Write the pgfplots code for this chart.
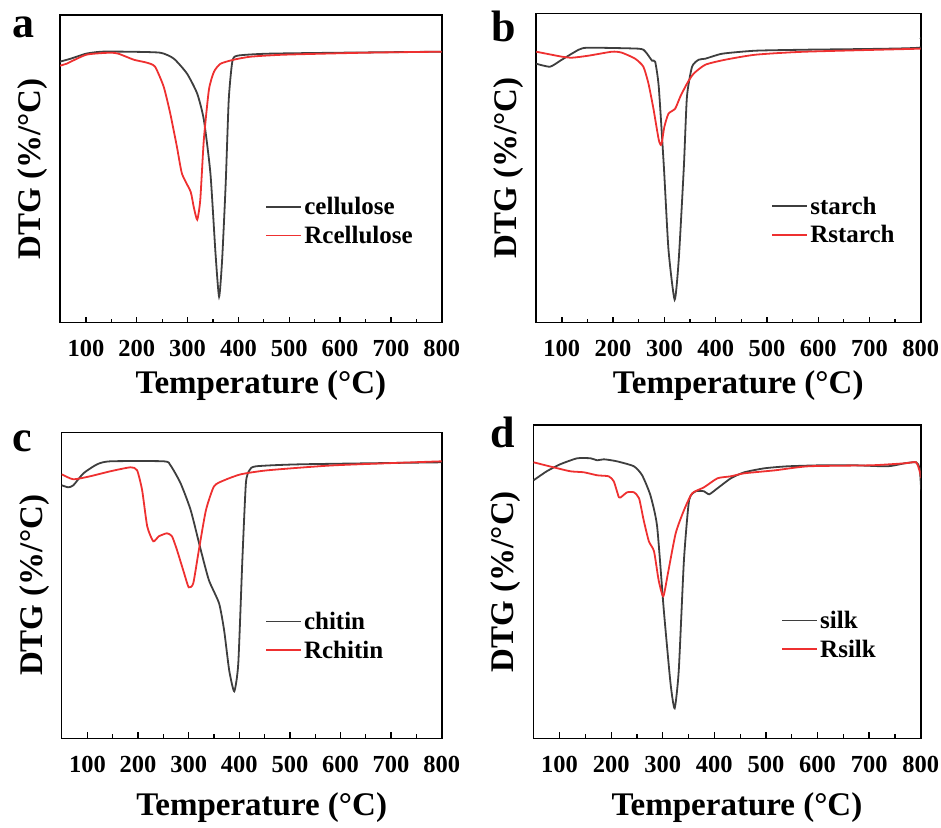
\documentclass[border=0pt]{standalone}
\usepackage{fontspec}
\setmainfont{Liberation Serif}
\usepackage{pgfplots}
\pgfplotsset{compat=1.18}
\definecolor{curvegray}{RGB}{62,62,62}
\definecolor{curvered}{RGB}{238,48,48}

\pgfplotsset{
  dtg/.style={
    scale only axis,
    xmin=49, xmax=800, ymin=0,
    xtick={100,200,...,800},
    minor x tick num=1,
    ytick=\empty,
    xtick pos=bottom,
    tick align=inside,
    major tick length=6pt,
    minor tick length=4pt,
    axis line style={line width=1.6pt},
    every tick/.style={line width=1.3pt, black},
    /pgf/number format/assume math mode=true,
    xticklabel style={font=\fontsize{24.5}{24.5}\selectfont\bfseries, anchor=base, yshift=-34pt},
    xlabel={Temperature (°C)},
    ylabel={DTG (\%/°C)},
    label style={font=\fontsize{33}{33}\selectfont\bfseries},
    xlabel style={at={(axis description cs:0.5,0)}, anchor=base, xshift=10pt, yshift=-71pt},
    ylabel style={yshift=9pt},
    legend style={draw=none, fill=none, anchor=west,
      font=\fontsize{25}{27}\selectfont\bfseries, row sep=6pt,
      inner sep=0pt, nodes={inner sep=2pt}},
    legend cell align=left,
    every axis plot/.append style={line width=1.8pt, smooth, tension=0.35},
  },
  legend image code/.code={\draw[#1, sharp plot, line width=1.8pt] plot coordinates {(0pt,0pt) (17.5pt,0pt) (35pt,0pt)};},
}

\begin{document}
\begin{tikzpicture}[x=1pt,y=1pt]
\useasboundingbox (0,0) rectangle (941,827);

% ---- a: cellulose
\begin{axis}[dtg, at={(60pt,504.3pt)}, width=381.7pt, height=307.7pt, ymax=307.7,
  legend style={at={(0.538,0.33)}}]
\addplot[curvegray] coordinates {
 (48.6,261) (70,264) (100,269) (130,271) (180,271) (246,270) (273,264) (299,249)
 (319,229) (332,203) (345,149) (355,69) (362,26) (368,63) (375,139) (381,223)
 (388,261) (398,267) (457,269) (600,270) (800,271)
};
\addlegendentry{cellulose}
\addplot[curvered] coordinates {
 (48.6,257) (62,259) (101,268) (147,270) (164,269) (194,263) (220,260) (236,256)
 (253,236) (266,209) (279,176) (289,149) (306,131) (312,116) (319,103) (325,123)
 (332,183) (342,233) (352,251) (365,259) (391,263) (424,266) (490,268) (650,270) (800,271)
};
\addlegendentry{Rcellulose}
\end{axis}

% ---- b: starch
\begin{axis}[dtg, at={(535.7pt,504.3pt)}, width=385pt, height=309.3pt, ymax=309.3,
  legend style={at={(0.612,0.33)}}]
\addplot[curvegray] coordinates {
 (50,259) (77,256) (100,263) (133,273) (152,275) (250,274) (263,271) (276,262)
 (282,261) (289,236) (299,156) (308,73) (320,23) (328,63) (338,156) (344,226)
 (354,256) (367,263) (380,264) (413,269) (478,272) (575,273) (797,275) (799,285)
};
\addlegendentry{starch}
\addplot[curvered] coordinates {
 (50,271) (100,266) (120,265) (152,267) (198,271) (217,270) (243,264) (259,256)
 (269,239) (279,213) (289,183) (294,178) (300,196) (308,209) (321,214) (331,226)
 (344,239) (357,249) (380,258) (419,263) (478,268) (575,271) (800,274)
};
\addlegendentry{Rstarch}
\end{axis}

% ---- c: chitin
\begin{axis}[dtg, at={(61.7pt,88.7pt)}, width=380pt, height=305.7pt, ymax=305.7,
  legend style={at={(0.535,0.335)}}, xlabel style={yshift=-6pt}]
\addplot[curvegray] coordinates {
 (49,253) (62,251) (72,253) (92,265) (119,274) (145,277) (251,277) (264,273)
 (284,255) (304,228) (324,188) (340,158) (360,135) (370,108) (380,68) (390,47)
 (398,75) (406,178) (413,255) (420,268) (433,272) (522,274) (800,276)
};
\addlegendentry{chitin}
\addplot[curvered] coordinates {
 (49,264) (72,259) (105,262) (145,267) (185,271) (198,268) (208,248) (218,212)
 (230,197) (241,202) (257,205) (267,202) (277,188) (291,165) (300,151) (309,155)
 (320,188) (334,228) (350,252) (370,258) (403,264) (456,268) (588,273) (800,277)
};
\addlegendentry{Rchitin}
\end{axis}

% ---- d: silk
\begin{axis}[dtg, at={(533.3pt,88.7pt)}, width=387.4pt, height=313.3pt, ymax=313.3,
  legend style={at={(0.64,0.33)}}, xlabel style={yshift=-6pt}]
\addplot[curvegray] coordinates {
 (49.5,258) (75,267) (101,274) (134,280) (160,280) (173,278) (186,279) (211,277)
 (244,272) (260,263) (276,243) (289,212) (302,128) (315,55) (323,30) (331,68)
 (341,178) (351,238) (364,247) (380,247) (390,244) (406,250) (432,260) (458,266)
 (497,270) (542,272) (607,273) (672,273) (736,272) (769,275) (791,276) (798,270) (801,248)
};
\addlegendentry{silk}
\addplot[curvered] coordinates {
 (49.5,276) (88,271) (121,267) (147,266) (173,263) (195,262) (205,257) (215,241)
 (221,242) (231,246) (244,246) (254,240) (263,218) (273,197) (283,187) (292,158)
 (301,142) (310,165) (325,205) (341,228) (357,245) (380,251) (406,260) (432,262)
 (458,265) (518,268) (582,272) (704,273) (769,275) (791,276) (798,267) (801,260)
};
\addlegendentry{Rsilk}
\end{axis}

\node[anchor=base west, font=\fontsize{44}{44}\selectfont\bfseries, inner sep=0pt] at (12,789) {a};
\node[anchor=base west, font=\fontsize{44}{44}\selectfont\bfseries, inner sep=0pt] at (491,785) {b};
\node[anchor=base west, font=\fontsize{44}{44}\selectfont\bfseries, inner sep=0pt] at (12,375) {c};
\node[anchor=base west, font=\fontsize{44}{44}\selectfont\bfseries, inner sep=0pt] at (490,379) {d};
\end{tikzpicture}
\end{document}
